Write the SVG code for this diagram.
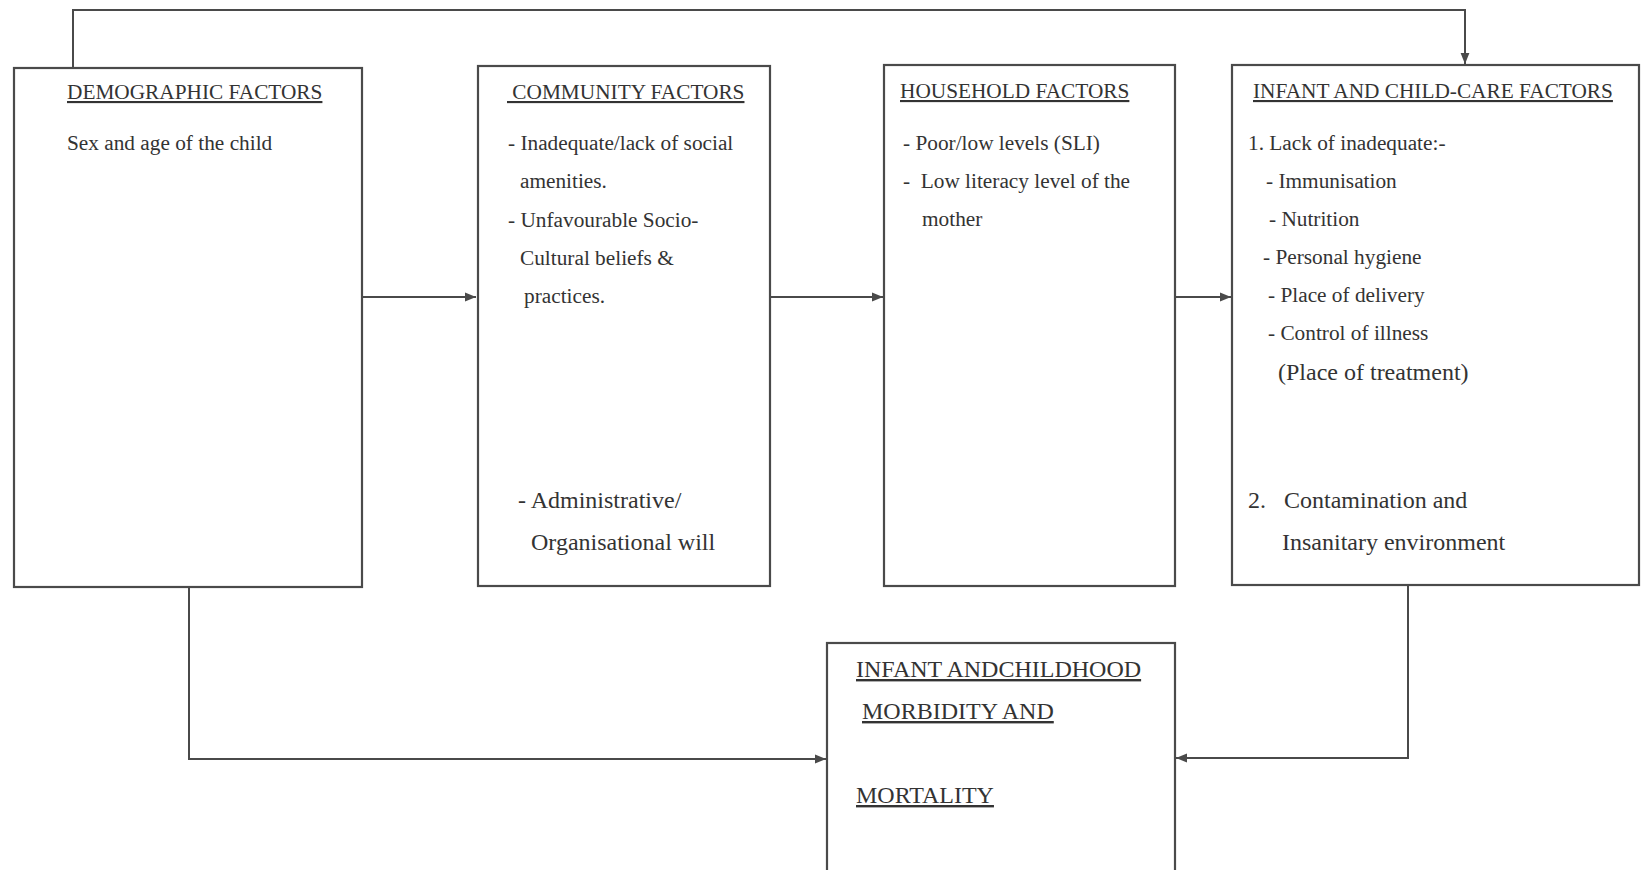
<svg xmlns="http://www.w3.org/2000/svg" width="1644" height="870" viewBox="0 0 1644 870">
<defs>
<style>
.box{fill:#fff;stroke:#4a4a4a;stroke-width:2.2}
.ln{fill:none;stroke:#4a4a4a;stroke-width:2}
text{font-family:"Liberation Serif","Times New Roman",serif;fill:#333;font-size:21.3px}
.t{text-decoration:underline}
.b{font-size:24px}
</style>
<marker id="ah" viewBox="0 0 10 10" refX="10" refY="5" markerWidth="11" markerHeight="11" markerUnits="userSpaceOnUse" orient="auto">
<path d="M0,1 L10,5 L0,9 Z" fill="#4a4a4a"/>
</marker>
</defs>
<rect width="1644" height="870" fill="#fff"/>
<g id="connectors">
<path class="ln" d="M73,68 L73,10 L1465,10 L1465,64" marker-end="url(#ah)"/>
<path class="ln" d="M362,297 L476,297" marker-end="url(#ah)"/>
<path class="ln" d="M770,297 L883,297" marker-end="url(#ah)"/>
<path class="ln" d="M1175,297 L1231,297" marker-end="url(#ah)"/>
<path class="ln" d="M189,587 L189,759 L826,759" marker-end="url(#ah)"/>
<path class="ln" d="M1408,585 L1408,758 L1176,758" marker-end="url(#ah)"/>
</g>
<g id="demographic">
<rect class="box" x="14" y="68" width="348" height="519"/>
<text class="t" x="67" y="99">DEMOGRAPHIC FACTORS</text>
<text x="67" y="150">Sex and age of the child</text>
</g>
<g id="community">
<rect class="box" x="478" y="66" width="292" height="520"/>
<text class="t" x="507" y="99" xml:space="preserve"> COMMUNITY FACTORS</text>
<text x="508" y="150">- Inadequate/lack of social</text>
<text x="520" y="188">amenities.</text>
<text x="508" y="227">- Unfavourable Socio-</text>
<text x="520" y="265">Cultural beliefs &amp;</text>
<text x="524" y="303">practices.</text>
<text class="b" x="518" y="508">- Administrative/</text>
<text class="b" x="531" y="550">Organisational will</text>
</g>
<g id="household">
<rect class="box" x="884" y="65" width="291" height="521"/>
<text class="t" x="900" y="98">HOUSEHOLD FACTORS</text>
<text x="903" y="150">- Poor/low levels (SLI)</text>
<text x="903" y="188" xml:space="preserve">-  Low literacy level of the</text>
<text x="922" y="226">mother</text>
</g>
<g id="infant-childcare">
<rect class="box" x="1232" y="65" width="407" height="520"/>
<text class="t" x="1253" y="98">INFANT AND CHILD-CARE FACTORS</text>
<text x="1248" y="150">1. Lack of inadequate:-</text>
<text x="1266" y="188">- Immunisation</text>
<text x="1269" y="226">- Nutrition</text>
<text x="1263" y="264">- Personal hygiene</text>
<text x="1268" y="302">- Place of delivery</text>
<text x="1268" y="340">- Control of illness</text>
<text class="b" x="1278" y="380">(Place of treatment)</text>
<text class="b" x="1248" y="508" xml:space="preserve">2.   Contamination and</text>
<text class="b" x="1282" y="550">Insanitary environment</text>
</g>
<g id="outcome">
<rect class="box" x="827" y="643" width="348" height="240"/>
<text class="t b" x="856" y="677">INFANT ANDCHILDHOOD</text>
<text class="t b" x="862" y="719">MORBIDITY AND</text>
<text class="t b" x="856" y="803">MORTALITY</text>
</g>
</svg>
